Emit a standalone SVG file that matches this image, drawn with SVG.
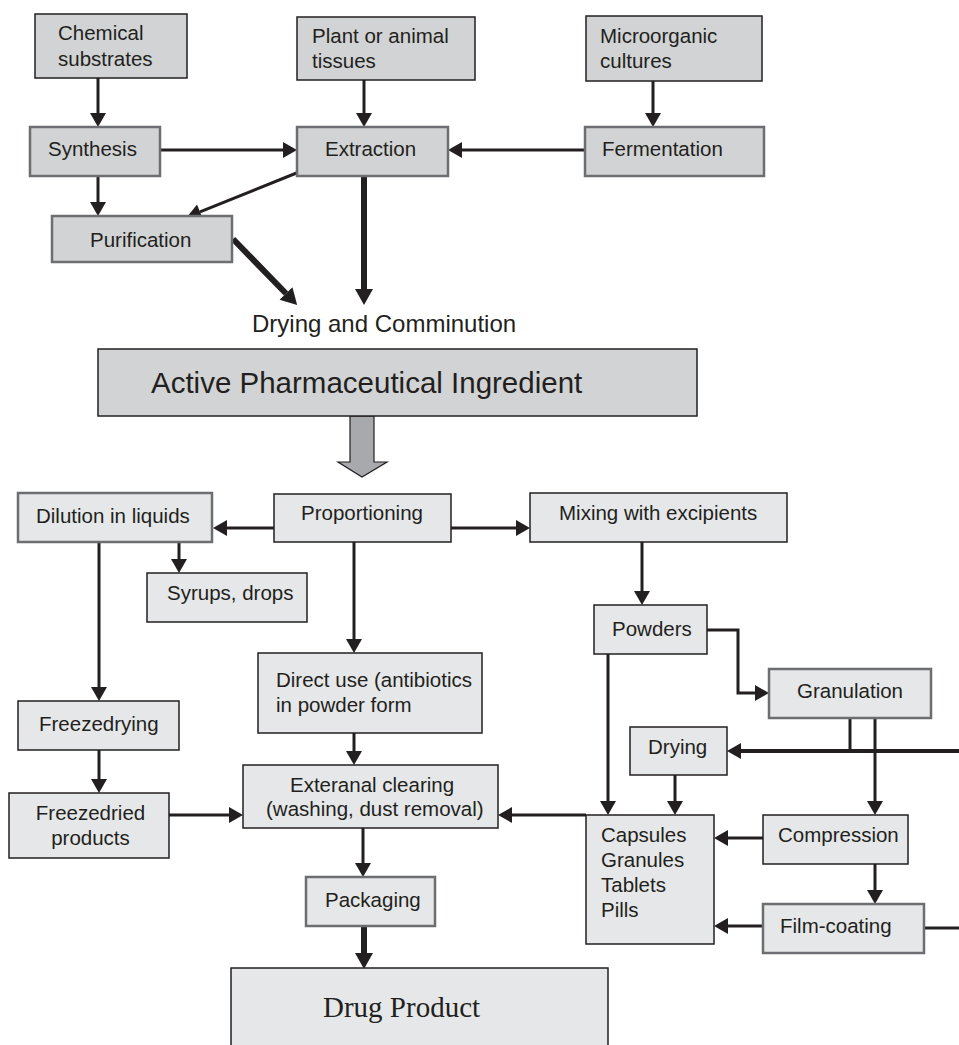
<svg xmlns="http://www.w3.org/2000/svg" width="959" height="1045" viewBox="0 0 959 1045">
<style>
text{font-family:"Liberation Sans",Arial,sans-serif;font-size:20.5px;fill:#231f20}
.top{fill:#d1d3d4}
.low{fill:#e6e7e8}
.dk{stroke:#231f20;stroke-width:1.5}
.gr{stroke:#6d6e71;stroke-width:2.5}
.c{fill:none;stroke:#231f20;stroke-width:3}
.t{fill:none;stroke:#231f20;stroke-width:6}
</style>
<defs>
<marker id="a" markerUnits="userSpaceOnUse" markerWidth="16" markerHeight="16" refX="0" refY="8" orient="auto" overflow="visible"><path d="M0,0 L14,8 L0,16 Z" fill="#231f20"/></marker>
<marker id="b" markerUnits="userSpaceOnUse" markerWidth="18" markerHeight="18" refX="0" refY="9" orient="auto" overflow="visible"><path d="M0,0 L16,9 L0,18 Z" fill="#231f20"/></marker>
</defs>
<g id="connectors">
<path class="c" d="M98,78 V113" marker-end="url(#a)"/>
<path class="c" d="M364,80 V113" marker-end="url(#a)"/>
<path class="c" d="M653,81 V113" marker-end="url(#a)"/>
<path class="c" d="M160,150 H283" marker-end="url(#a)"/>
<path class="c" d="M585,150 H462" marker-end="url(#a)"/>
<path class="c" d="M98,176 V202" marker-end="url(#a)"/>
<path class="c" d="M299,172 L200,211.8" marker-end="url(#a)"/>
<path class="t" d="M233,239 L286,293.5" marker-end="url(#b)"/>
<path class="t" d="M364,176 V289" marker-end="url(#b)"/>
<path d="M350,416 H374 V462 H387 L362,477 L338,462 H350 Z" fill="#a7a9ac" stroke="#231f20" stroke-width="1.2"/>
<path class="c" d="M274,528 H227" marker-end="url(#a)"/>
<path class="c" d="M451,528 H516" marker-end="url(#a)"/>
<path class="c" d="M179,542 V559" marker-end="url(#a)"/>
<path class="c" d="M354,542 V639" marker-end="url(#a)"/>
<path class="c" d="M99,542 V687" marker-end="url(#a)"/>
<path class="c" d="M99,750 V779" marker-end="url(#a)"/>
<path class="c" d="M169,815 H229" marker-end="url(#a)"/>
<path class="c" d="M354,733 V751" marker-end="url(#a)"/>
<path class="c" d="M363,828 V863" marker-end="url(#a)"/>
<path class="t" d="M364,926 V953" marker-end="url(#b)"/>
<path class="c" d="M642,542 V591" marker-end="url(#a)"/>
<path class="c" d="M707,630 H738 V693 H755" marker-end="url(#a)"/>
<path class="c" d="M608,654 V801" marker-end="url(#a)"/>
<path class="c" style="stroke-width:4" d="M959,751 H741" marker-end="url(#a)"/>
<path class="c" d="M850,718 V751"/>
<path class="c" d="M875,718 V801" marker-end="url(#a)"/>
<path class="c" d="M675,775 V801" marker-end="url(#a)"/>
<path class="c" d="M586,815 H512" marker-end="url(#a)"/>
<path class="c" d="M763,838 H728" marker-end="url(#a)"/>
<path class="c" d="M875,864 V890" marker-end="url(#a)"/>
<path class="c" d="M763,926 H728" marker-end="url(#a)"/>
<path class="c" d="M924,928 H959"/>
</g>
<g id="chemical"><rect x="35" y="14" width="152" height="64" class="top dk"/><text x="58" y="40">Chemical</text><text x="58" y="66">substrates</text></g>
<g id="plant"><rect x="297" y="17" width="178" height="63" class="top dk"/><text x="312" y="43">Plant or animal</text><text x="312" y="68">tissues</text></g>
<g id="micro"><rect x="586" y="16" width="176" height="65" class="top dk"/><text x="600" y="43">Microorganic</text><text x="600" y="68">cultures</text></g>
<g id="synthesis"><rect x="30" y="127" width="130" height="49" class="top gr"/><text x="48" y="156">Synthesis</text></g>
<g id="extraction"><rect x="297" y="127" width="151" height="49" class="top gr"/><text x="325" y="156">Extraction</text></g>
<g id="fermentation"><rect x="585" y="127" width="179" height="49" class="top gr"/><text x="602" y="156">Fermentation</text></g>
<g id="purification"><rect x="52" y="216" width="180" height="46" class="top gr"/><text x="90" y="247">Purification</text></g>
<g id="drying-comminution"><text x="252" y="332" style="font-size:24px">Drying and Comminution</text></g>
<g id="api"><rect x="98" y="349" width="599" height="67" class="top dk"/><text x="151" y="393" style="font-size:29.5px">Active Pharmaceutical Ingredient</text></g>
<g id="proportioning"><rect x="274" y="494" width="177" height="48" class="low dk"/><text x="301" y="520">Proportioning</text></g>
<g id="dilution"><rect x="18" y="493" width="194" height="49" class="low gr"/><text x="36" y="523">Dilution in liquids</text></g>
<g id="syrups"><rect x="147" y="573" width="160" height="49" class="low dk"/><text x="167" y="600">Syrups, drops</text></g>
<g id="mixing"><rect x="530" y="493" width="257" height="49" class="low dk"/><text x="559" y="520">Mixing with excipients</text></g>
<g id="powders"><rect x="594" y="605" width="113" height="49" class="low dk"/><text x="612" y="636">Powders</text></g>
<g id="granulation"><rect x="769" y="669" width="162" height="49" class="low gr"/><text x="797" y="698">Granulation</text></g>
<g id="drying"><rect x="630" y="727" width="97" height="48" class="low dk"/><text x="648" y="754">Drying</text></g>
<g id="direct-use"><rect x="258" y="653" width="224" height="80" class="low dk"/><text x="276" y="687">Direct use (antibiotics</text><text x="276" y="712">in powder form</text></g>
<g id="freezedrying"><rect x="18" y="701" width="161" height="49" class="low dk"/><text x="39" y="731">Freezedrying</text></g>
<g id="freezedried"><rect x="9" y="793" width="160" height="65" class="low dk"/><text x="90.5" y="820" text-anchor="middle">Freezedried</text><text x="90.5" y="845" text-anchor="middle">products</text></g>
<g id="exteranal"><rect x="243" y="765" width="255" height="63" class="low dk"/><text x="290" y="792">Exteranal clearing</text><text x="266" y="816">(washing, dust removal)</text></g>
<g id="capsules"><rect x="586" y="815" width="128" height="129" class="low dk"/><text x="601" y="842">Capsules</text><text x="601" y="867">Granules</text><text x="601" y="892">Tablets</text><text x="601" y="917">Pills</text></g>
<g id="compression"><rect x="763" y="815" width="145" height="49" class="low dk"/><text x="778" y="842">Compression</text></g>
<g id="film-coating"><rect x="763" y="904" width="161" height="49" class="low gr"/><text x="780" y="933">Film-coating</text></g>
<g id="packaging"><rect x="306" y="877" width="129" height="49" class="low gr"/><text x="325" y="907">Packaging</text></g>
<g id="drug-product"><rect x="231" y="968" width="377" height="90" class="low dk"/><text x="323" y="1017" style="font-family:'Liberation Serif','Times New Roman',serif;font-size:29px">Drug Product</text></g>
</svg>
